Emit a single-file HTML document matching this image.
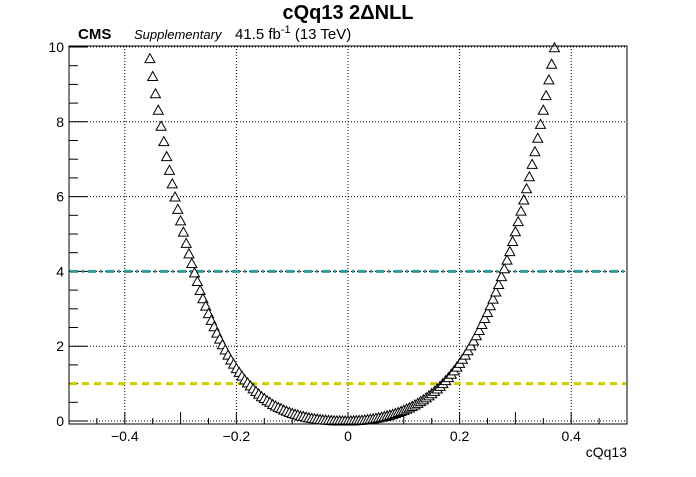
<!DOCTYPE html>
<html><head><meta charset="utf-8"><style>
body{margin:0;background:#fff;}
svg text{font-family:"Liberation Sans",Arial,sans-serif;}
</style></head><body>
<svg id="chart" width="696" height="472" viewBox="0 0 696 472" xmlns="http://www.w3.org/2000/svg">
<rect width="696" height="472" fill="#fff"/>
<text x="348" y="19" font-size="20" font-weight="bold" text-anchor="middle">cQq13 2ΔNLL</text>
<text x="78" y="39" font-size="15" font-weight="bold">CMS</text>
<text x="134" y="39" font-size="13" font-style="italic">Supplementary</text>
<text x="235" y="39" font-size="15">41.5 fb<tspan dy="-6" font-size="11">-1</tspan><tspan dy="6"> (13 TeV)</tspan></text>
<g id="grid"></g>
<g id="axes"></g>
<g id="refs"></g>
<g id="pts"></g>
<rect x="69" y="46" width="558" height="378" fill="none" stroke="#000" stroke-width="1"/>
<text x="627" y="457" font-size="14" text-anchor="end">cQq13</text>
</svg>
<script>
const xs=[-0.355,-0.35,-0.345,-0.34,-0.335,-0.33,-0.325,-0.32,-0.315,-0.31,-0.305,-0.3,-0.295,-0.29,-0.285,-0.28,-0.275,-0.27,-0.265,-0.26,-0.255,-0.25,-0.245,-0.24,-0.235,-0.23,-0.225,-0.22,-0.215,-0.21,-0.205,-0.2,-0.195,-0.19,-0.185,-0.18,-0.175,-0.17,-0.165,-0.16,-0.155,-0.15,-0.145,-0.14,-0.135,-0.13,-0.125,-0.12,-0.115,-0.11,-0.105,-0.1,-0.095,-0.09,-0.085,-0.08,-0.075,-0.07,-0.065,-0.06,-0.055,-0.05,-0.045,-0.04,-0.035,-0.03,-0.025,-0.02,-0.015,-0.01,-0.005,0,0.005,0.01,0.015,0.02,0.025,0.03,0.035,0.04,0.045,0.05,0.055,0.06,0.065,0.07,0.075,0.08,0.085,0.09,0.095,0.1,0.105,0.11,0.115,0.12,0.125,0.13,0.135,0.14,0.145,0.15,0.155,0.16,0.165,0.17,0.175,0.18,0.185,0.19,0.195,0.2,0.205,0.21,0.215,0.22,0.225,0.23,0.235,0.24,0.245,0.25,0.255,0.26,0.265,0.27,0.275,0.28,0.285,0.29,0.295,0.3,0.305,0.31,0.315,0.32,0.325,0.33,0.335,0.34,0.345,0.35,0.355,0.36,0.365,0.37];
const ys=[9.69,9.21,8.75,8.31,7.88,7.47,7.07,6.70,6.34,5.99,5.66,5.35,5.05,4.75,4.47,4.21,3.96,3.73,3.49,3.27,3.07,2.87,2.69,2.52,2.35,2.19,2.04,1.90,1.76,1.63,1.52,1.40,1.30,1.20,1.10,1.02,0.94,0.86,0.79,0.72,0.65,0.60,0.54,0.50,0.44,0.40,0.36,0.33,0.29,0.26,0.23,0.20,0.18,0.16,0.13,0.12,0.10,0.085,0.07,0.059,0.048,0.038,0.030,0.022,0.016,0.011,0.007,0.004,0.002,0.0005,0,0.0006,0.002,0.005,0.009,0.014,0.020,0.027,0.036,0.046,0.057,0.070,0.084,0.099,0.116,0.135,0.155,0.177,0.201,0.227,0.255,0.285,0.317,0.352,0.389,0.429,0.471,0.517,0.565,0.617,0.671,0.730,0.791,0.857,0.927,1.00,1.08,1.16,1.25,1.34,1.44,1.54,1.65,1.76,1.88,2.01,2.14,2.28,2.42,2.58,2.74,2.90,3.08,3.26,3.45,3.65,3.86,4.07,4.30,4.53,4.80,5.06,5.33,5.61,5.91,6.21,6.53,6.86,7.20,7.56,7.93,8.31,8.70,9.12,9.54,9.98];
const xTicks=[-0.4,-0.2,0,0.2,0.4];
const xTickLabels=["−0.4","−0.2","0","0.2","0.4"];
const yTicks=[0,2,4,6,8,10];
const refLevels=[4,1];
const refColors=["#339999","#cccc00"];
const NS="http://www.w3.org/2000/svg";
const X0=69,X1=627,Y0=421,Y10=47;
function sx(v){return X0+(v+0.5)*(X1-X0);}
function sy(v){return Y0-v*(Y0-Y10)/10;}
function mk(tag,attrs,parent){const e=document.createElementNS(NS,tag);for(const k in attrs)e.setAttribute(k,attrs[k]);parent.appendChild(e);return e;}
const grid=document.getElementById('grid'),axes=document.getElementById('axes'),refs=document.getElementById('refs'),pts=document.getElementById('pts');
xTicks.forEach((t,i)=>{
 const g=mk('line',{x1:sx(t),x2:sx(t),y1:46,y2:424,stroke:'#000','stroke-dasharray':'1,2','stroke-width':1},grid);
 
 
 const tk=mk('line',{x1:sx(t),x2:sx(t),y1:424,y2:412,stroke:'#000'},axes);
 
 
 const l=mk('text',{x:sx(t),y:441,'font-size':14,'text-anchor':'middle'},axes);
 
 
 l.textContent=xTickLabels[i];
});
for(let k=-10;k<=10;k++){const v=k*0.05;if(Math.abs(k)%4===0)continue;
 const m=mk('line',{x1:sx(v),x2:sx(v),y1:424,y2:(k%2===0?412:418),stroke:'#000'},axes);
 
 }
yTicks.forEach(t=>{
 const g=mk('line',{x1:69,x2:627,y1:sy(t),y2:sy(t),stroke:'#000','stroke-dasharray':'1,2','stroke-width':1},grid);
 
 
 const tk=mk('line',{x1:69,x2:87,y1:sy(t),y2:sy(t),stroke:'#000'},axes);
 
 
 const l=mk('text',{x:64,y:sy(t)+5,'font-size':14,'text-anchor':'end'},axes);
 
 
 l.textContent=String(t);
});
for(let v=0.5;v<10;v+=0.5){if(Math.abs(v%2)<1e-6)continue;
 const m=mk('line',{x1:69,x2:78,y1:sy(v),y2:sy(v),stroke:'#000'},axes);
 
 }
refLevels.forEach((lv,i)=>{
 const r=mk('line',{x1:70,x2:626,y1:sy(lv),y2:sy(lv),stroke:refColors[i],'stroke-width':3,'stroke-dasharray':i===0?'8,4,2,4':'7,5'},refs);
 
 
});
xs.forEach((x,i)=>{
 const cx=sx(x),cy=sy(ys[i]);
 const p=mk('polygon',{points:`${cx-5},${cy+4} ${cx+5},${cy+4} ${cx},${cy-5}`,fill:'#fff',stroke:'#000','stroke-width':1},pts);
 
 
});
</script>
</body></html>
